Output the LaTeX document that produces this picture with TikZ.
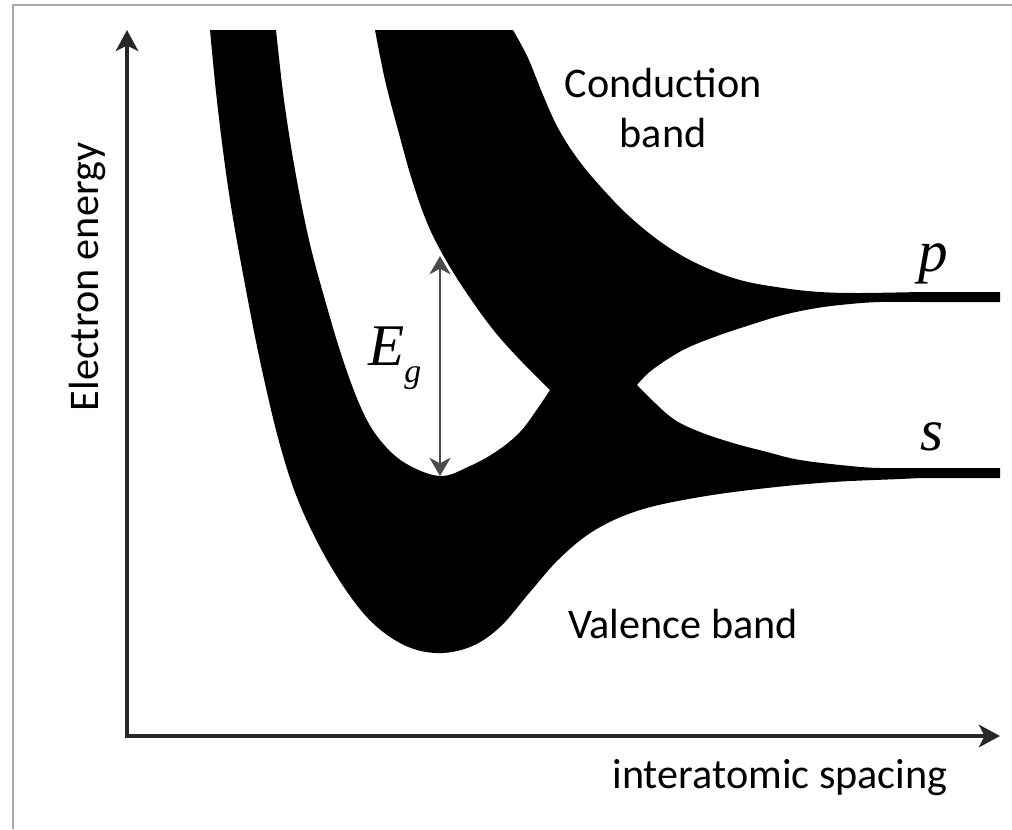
\documentclass[tikz,border=0pt]{standalone}
\usepackage{fontspec}
\setmainfont{Carlito}
\newfontfamily\serifrm{Liberation Serif}
\definecolor{framegray}{RGB}{170, 170, 170}
\definecolor{axisgray}{RGB}{40, 40, 40}
\definecolor{arrowgray}{RGB}{75, 75, 75}
\usetikzlibrary{arrows.meta}

\begin{document}
\begin{tikzpicture}[x=0.025cm, y=-0.025cm, >={Stealth[length=15pt, width=16pt, inset=4pt]},
    every node/.style={inner sep=0pt, font=\fontsize{30}{36}\selectfont},
    label/.style={align=center},
    bandsym/.style={font=\fontsize{42}{42}\selectfont\serifrm\itshape},
    axis/.style={<->, draw=axisgray, line width=3.4pt},
    gap/.style={<->, draw=arrowgray, line width=2pt, >={Stealth[length=13pt, width=15pt, inset=4pt]}},
    band/.style={fill=black}]
    \useasboundingbox (0,0) rectangle (1012,829);
    \draw [framegray, line width=1.6pt] (13,829) -- (13,5) -- (1012,5);

    % bands (valence + conduction, one black region)
    \fill [band] plot [smooth, tension=0.6] coordinates {(210,30) (218,110) (230,200) (246,290) (262,370) (280,445) (300,505) (330,565) (365,615) (400,643) (435,653) (470,647) (500,627) (530,592) (560,558) (595,530) (640,510) (700,497) (767,488) (833,482) (900,479) (920,478)}
        -- (1000,478) -- (1000,468) -- (920,468)
        -- plot [smooth, tension=0.6] coordinates {(920,468) (880,468) (850,466) (800,460) (767,452) (733,443) (700,432) (675,420) (655,403) (637,385)}
        -- plot [smooth, tension=0.6] coordinates {(637,385) (652,370) (683,350) (717,336) (750,325) (783,315) (817,308) (850,304) (880,302) (920,302)}
        -- (1000,302) -- (1000,292) -- (920,292)
        -- plot [smooth, tension=0.6] coordinates {(920,292) (860,293) (820,292) (783,288) (740,280) (700,265) (665,245) (630,217) (600,186) (577,158) (558,128) (543,95) (528,58) (513,30)}
        -- (375,30)
        -- plot [smooth, tension=0.6] coordinates {(375,30) (385,80) (398,130) (412,180) (428,225) (447,262) (470,298) (495,332) (522,362) (550,390)}
        -- plot [smooth, tension=0.6] coordinates {(550,390) (538,408) (520,432) (497,451) (470,466) (440,476) (405,463) (380,440) (362,410) (343,360) (325,300) (309,240) (295,170) (284,100) (276,30)}
        -- cycle;

    \coordinate (origin) at (127,736);
    \coordinate (ytip) at (127,30);
    \coordinate (xtip) at (1000,736);
    \coordinate (gaptop) at (440,256);
    \coordinate (gapbot) at (440,476);
    \draw [axis] (ytip) -- (origin) -- (xtip);
    \draw [gap] (gaptop) -- (gapbot);

    \node [label] (cond) at (663,108) {Conduction\\band};
    \node [label, anchor=base] (val) at (683,638) {Valence band};
    \node [label, anchor=base] (xlabel) at (780,788) {interatomic spacing};
    \node [label, anchor=base, rotate=90] (ylabel) at (98,277) {Electron energy};
    \node [bandsym, anchor=base west] (eg) at (368,365) {E\raisebox{-0.3em}{\fontsize{24}{24}\selectfont g}};
    \node [bandsym, anchor=base west] (plabel) at (918,271) {p};
    \node [bandsym, anchor=base west] (slabel) at (920,450) {s};
\end{tikzpicture}
\end{document}
